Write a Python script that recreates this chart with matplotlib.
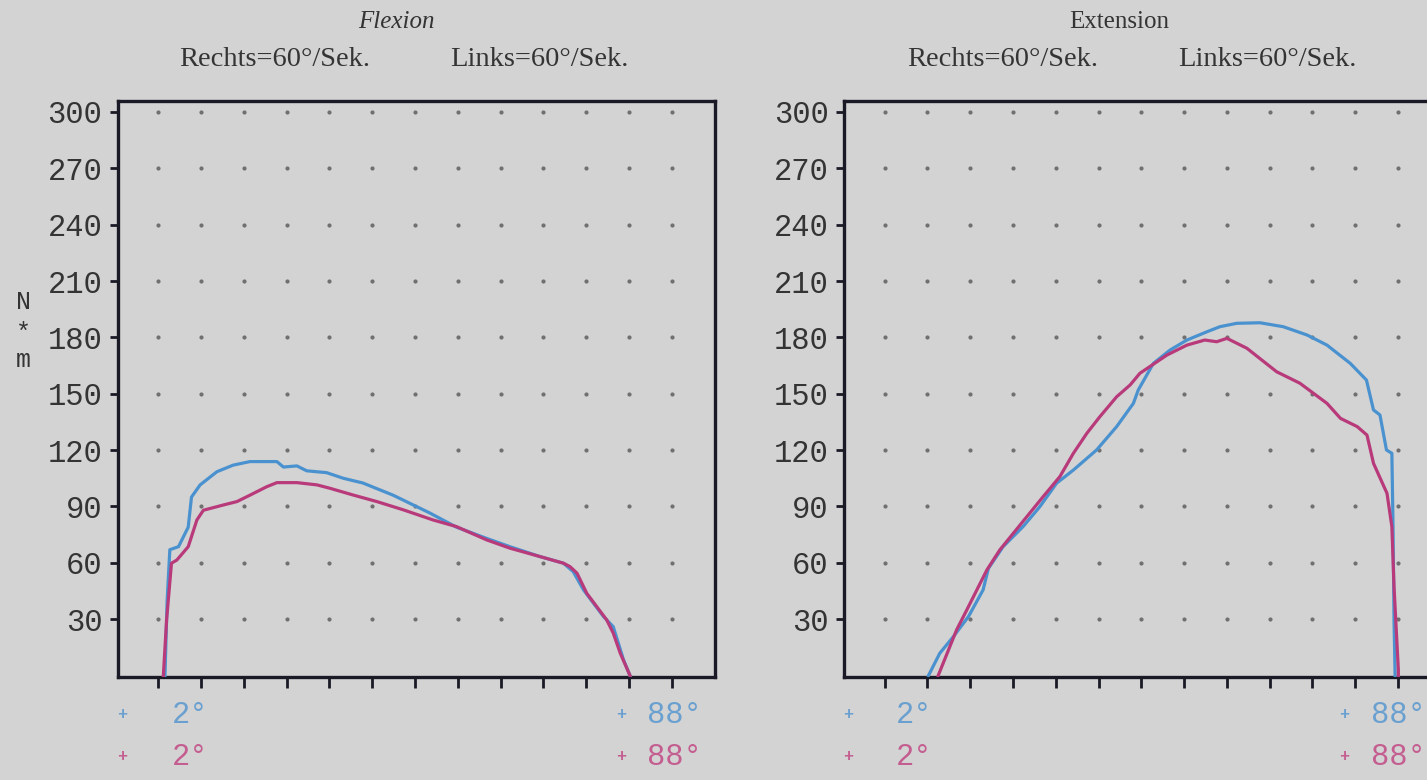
import numpy as np
import matplotlib.pyplot as plt

# ---- data (angle in degrees, torque in Nm) ----
flex_rechts_deg = [2.0, 2.4, 2.9, 4.5, 6.3, 6.9, 8.5, 11.6, 14.6, 17.7, 22.7, 23.9, 26.4,
                   28.2, 31.9, 35.0, 38.6, 44.2, 51.0, 55.9, 61.5, 65.8, 71.4, 75.7, 77.5,
                   79.4, 83.1, 84.9, 86.8, 88.0]
flex_rechts_nm = [0, 40, 67, 68.6, 79, 95, 101.5, 108.5, 112, 113.9, 113.9, 111, 111.6,
                  109, 108, 105, 102.5, 96, 86.5, 79, 73, 68.6, 63.3, 59.8, 55.3,
                  45.6, 31.4, 26, 8.4, 0]

flex_links_deg = [1.7, 2.3, 3.2, 4.2, 6.3, 7.9, 9.1, 12.8, 15.3, 17.7, 20.8, 22.7, 26.4,
                  30.1, 32.5, 36.8, 41.2, 46.1, 51.6, 55.9, 61.5, 65.8, 71.4, 75.7, 76.9,
                  78.2, 80.0, 83.7, 84.9, 86.2, 88.0]
flex_links_nm = [0, 29.6, 59.8, 61.5, 68.6, 82.8, 88, 90.8, 92.6, 96, 100.5, 102.7, 102.7,
                 101.5, 99.7, 96.1, 92.6, 88.2, 82.8, 79.3, 72.2, 67.8, 63.3, 59.8, 58,
                 54.5, 43.8, 29.6, 22.6, 11.9, 0]

ext_rechts_deg = [1.9, 4.0, 6.5, 9.3, 12.0, 13.0, 15.7, 19.4, 22.5, 25.6, 28.7, 33.0, 36.7,
                  39.8, 40.7, 43.5, 46.6, 49.7, 53.4, 55.8, 58.9, 63.2, 67.5, 71.9, 75.6,
                  79.9, 82.9, 84.2, 85.4, 86.6, 87.6, 87.8, 88.0, 88.2]
ext_rechts_nm = [0, 11.9, 20.7, 31.4, 45.6, 57.1, 68.6, 79.3, 89.9, 102.4, 109.4, 120.1, 132.5,
                 144.9, 152, 166.2, 173.3, 178.6, 183, 185.7, 187.5, 187.8, 185.7, 181.3, 175.9,
                 166.2, 157.3, 141.4, 138.7, 120.1, 118.3, 82.8, 29.6, 0]

ext_links_deg = [3.7, 7.1, 9.0, 12.7, 15.1, 20.1, 23.1, 26.2, 28.7, 31.2, 33.6, 36.7, 39.2,
                 41.0, 46.0, 49.7, 53.0, 55.2, 57.1, 60.8, 66.3, 70.6, 75.6, 78.1, 81.2,
                 83.0, 84.2, 86.7, 87.6, 88.0, 88.8, 88.8]
ext_links_nm = [0, 24.3, 35, 56.2, 66.9, 84.6, 95.2, 105.9, 118.3, 129, 137.8, 148.4, 154.7,
                160.9, 170.6, 175.9, 178.6, 177.7, 179.5, 174.2, 161.7, 155.6, 144.9, 136.9, 132.5,
                128, 113, 97, 79.3, 47.3, 3, 0]

yticks = [30, 60, 90, 120, 150, 180, 210, 240, 270, 300]
titles = ["Flexion", "Extension"]
speed_rechts = "Rechts=60°/Sek."
speed_links = "Links=60°/Sek."
start_label = "2°"
end_label = "88°"

# ---- styling ----
W, H = 1427, 780
BG = "#d3d3d3"
SPINE = "#1a1a26"
TXT = "#343434"
BLUE = "#4a92cf"
MAG = "#b83a7a"
BLUE_T = "#6aa0d0"
MAG_T = "#c45e90"

fig = plt.figure(figsize=(W / 100, H / 100), dpi=100, facecolor=BG)


def fx(x):
    return x / W


def fy(y):
    return 1 - y / H


def style(ax, xlim, xticks):
    ax.set_facecolor(BG)
    ax.set_xlim(xlim)
    ax.set_ylim(-0.5, 306)
    ax.set_xticks(xticks)
    ax.set_xticklabels([])
    ax.set_yticks(yticks)
    ax.set_yticklabels([str(v) for v in yticks], family="Liberation Mono",
                       fontsize=22, color=TXT)
    ax.tick_params(axis="x", direction="out", length=8, width=2, color=SPINE)
    ax.tick_params(axis="y", direction="out", length=6, width=2, color=SPINE, pad=5)
    for s in ax.spines.values():
        s.set_linewidth(2.4)
        s.set_color(SPINE)
    gx, gy = np.meshgrid(xticks, yticks)
    ax.scatter(gx.ravel(), gy.ravel(), s=9, color="#707070", zorder=1, linewidths=0)


ax1 = fig.add_axes([fx(117.5), fy(676.5), 597.5 / W, 575.8 / H])
ax2 = fig.add_axes([fx(844), fy(676.5), 597.5 / W, 575.8 / H])

style(ax1, (-6.78, 103.72), 0.78 + 7.91 * np.arange(13))
style(ax2, (-13.72, 96.78), -6.2 + 7.91 * np.arange(14))

kw = dict(lw=2.3, solid_joinstyle="round", zorder=3)
ax1.plot(flex_rechts_deg, flex_rechts_nm, color=BLUE, **kw)
ax1.plot(flex_links_deg, flex_links_nm, color=MAG, **kw)
ax2.plot(ext_rechts_deg, ext_rechts_nm, color=BLUE, **kw)
ax2.plot(ext_links_deg, ext_links_nm, color=MAG, **kw)

# titles
serif = dict(family="Liberation Serif", color=TXT, va="center")
fig.text(fx(396), fy(22), titles[0], ha="center", fontsize=18, style="italic", **serif)
fig.text(fx(179), fy(60), speed_rechts, ha="left", fontsize=20.5, **serif)
fig.text(fx(450), fy(60), speed_links, ha="left", fontsize=20.5, **serif)
fig.text(fx(1119), fy(22), titles[1], ha="center", fontsize=18, **serif)
fig.text(fx(907), fy(60), speed_rechts, ha="left", fontsize=20.5, **serif)
fig.text(fx(1178), fy(60), speed_links, ha="left", fontsize=20.5, **serif)

# y unit, stacked
mono = dict(family="Liberation Mono", ha="center", va="center")
for ch, y in zip(["N", "*", "m"], [302, 333, 360]):
    fig.text(fx(23), fy(y), ch, fontsize=18, color=TXT, **mono)

# angle labels under the plots
for row_y, col in [(715, BLUE_T), (757, MAG_T)]:
    for plus_x, lab_x, lab in [(121.7, 172, start_label), (620.8, 647, end_label),
                               (848.5, 896, start_label), (1344, 1371, end_label)]:
        fig.text(fx(plus_x), fy(row_y), "+", fontsize=12, color=col, fontweight="bold", **mono)
        fig.text(fx(lab_x), fy(row_y), lab, fontsize=22, color=col,
                 family="Liberation Mono", ha="left", va="center")

fig.savefig("out.png", dpi=100, facecolor=BG)
